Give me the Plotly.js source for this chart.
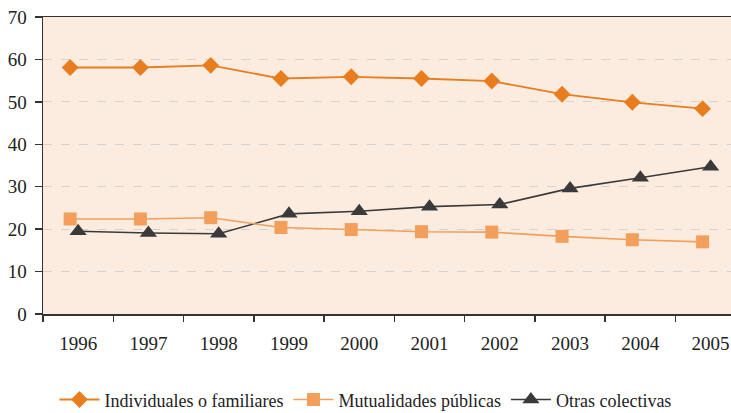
<!DOCTYPE html>
<html>
<head>
<meta charset="utf-8">
<script src="https://cdn.plot.ly/plotly-3.0.1.min.js"></script>
<style>
  html, body { margin: 0; padding: 0; background: #ffffff; }
  #chart { width: 731px; height: 413px; }
</style>
</head>
<body>
<div id="chart"></div>
<script>
// years on the x axis
const years = ["1996", "1997", "1998", "1999", "2000", "2001", "2002", "2003", "2004", "2005"];

// series values (%)
const individuales = [58.1, 58.1, 58.6, 55.5, 55.9, 55.5, 54.9, 51.8, 49.9, 48.4];
const mutualidades = [22.4, 22.4, 22.7, 20.4, 19.9, 19.4, 19.3, 18.3, 17.5, 17.0];
const otras = [19.5, 19.1, 18.9, 23.6, 24.2, 25.3, 25.8, 29.6, 32.1, 34.7];

const yTicks = [0, 10, 20, 30, 40, 50, 60, 70];

const serif = "Liberation Serif, Times New Roman, serif";

const traces = [
    {
        x: years, y: individuales, name: "Individuales o familiares",
        xaxis: "x2", mode: "lines+markers", type: "scatter",
        line: {color: "#e87d1f", width: 1.8},
        marker: {symbol: "diamond", size: 13, color: "#e87d1f"}
    },
    {
        x: years, y: mutualidades, name: "Mutualidades públicas",
        xaxis: "x2", mode: "lines+markers", type: "scatter",
        line: {color: "#f19f5a", width: 1.6},
        marker: {symbol: "square", size: 13, color: "#f19f5a"}
    },
    {
        x: years, y: otras, name: "Otras colectivas",
        mode: "lines+markers", type: "scatter",
        line: {color: "#3a3a3a", width: 1.6},
        marker: {symbol: "triangle-up", size: 15, color: "#3a3a3a"}
    }
];

// diamonds and squares sit a little left of the category centre
const shift = 0.114;

const layout = {
    width: 731,
    height: 413,
    margin: {l: 43, r: 0, t: 17, b: 99},
    paper_bgcolor: "#ffffff",
    plot_bgcolor: "#fcece0",
    font: {family: serif, size: 19, color: "#222222"},
    showlegend: true,
    legend: {
        orientation: "h",
        x: 0.5, xanchor: "center", xref: "container",
        y: 0.032, yanchor: "middle", yref: "container",
        font: {family: serif, size: 18, color: "#222222"},
        itemwidth: 40,
        traceorder: "normal"
    },
    xaxis: {
        type: "category",
        categoryarray: years,
        range: [-0.5, 9.29],
        showgrid: false,
        showline: true, linecolor: "#333333", linewidth: 1.5,
        mirror: true,
        ticks: "outside", tickson: "boundaries", ticklen: 6,
        tickcolor: "#333333", tickwidth: 1.5,
        ticklabelstandoff: 12,
        tickangle: 0,
        zeroline: false,
        fixedrange: true
    },
    xaxis2: {
        type: "category",
        categoryarray: years,
        overlaying: "x",
        range: [-0.5 + shift, 9.29 + shift],
        visible: false,
        fixedrange: true
    },
    yaxis: {
        range: [0, 70],
        tickvals: yTicks,
        showgrid: true, gridcolor: "#d3d3d3", griddash: "dash", gridwidth: 1,
        showline: true, linecolor: "#333333", linewidth: 1.5,
        ticks: "outside", ticklen: 7, tickcolor: "#333333", tickwidth: 1.5,
        ticklabelstandoff: 4,
        zeroline: false,
        fixedrange: true
    }
};

Plotly.newPlot("chart", traces, layout, {displayModeBar: false, staticPlot: true});
</script>
</body>
</html>
